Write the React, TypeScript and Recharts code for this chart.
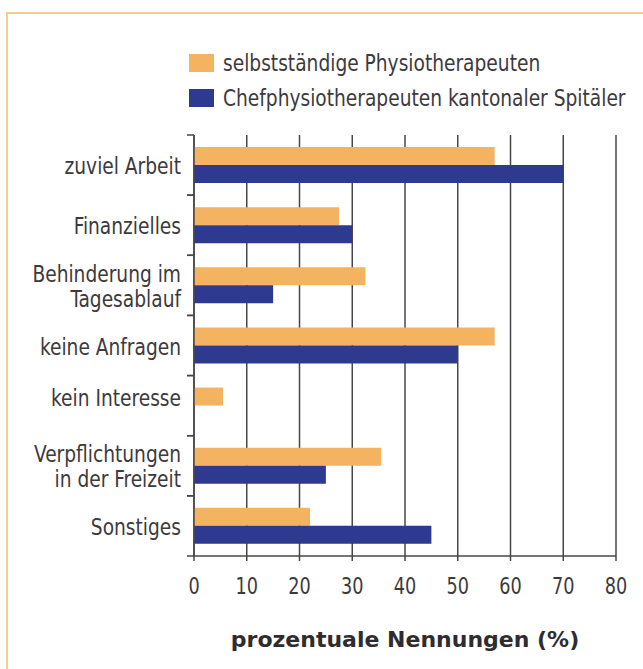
import React from 'react';
import { BarChart, Bar, XAxis, YAxis, CartesianGrid, Legend, Label } from 'recharts';

const categories = [
  'zuviel Arbeit',
  'Finanzielles',
  'Behinderung im\nTagesablauf',
  'keine Anfragen',
  'kein Interesse',
  'Verpflichtungen\nin der Freizeit',
  'Sonstiges',
];
const selbststaendig = [57, 27.5, 32.5, 57, 5.5, 35.5, 22];
const chefphysio = [70, 30, 15, 50, null, 25, 45];
const xTicks = [0, 10, 20, 30, 40, 50, 60, 70, 80];
const seriesNames = ['selbstständige Physiotherapeuten', 'Chefphysiotherapeuten kantonaler Spitäler'];
const axisTitle = 'prozentuale Nennungen (%)';

const ORANGE = '#F4B360';
const BLUE = '#2E3990';
const GRID = '#4a4648';
const TEXT = '#3d3a3d';
const COND = '"DejaVu Sans Condensed", "DejaVu Sans", sans-serif';
const SQUEEZE = 0.9;
const BAR = 18;

const data = categories.map((name, i) => ({
  name,
  a: selbststaendig[i],
  b: chefphysio[i],
}));

const YTick = (props: any) => {
  const { x, y, payload, height, visibleTicksCount, index } = props;
  const half = payload && payload.offset > 5 ? payload.offset : height / visibleTicksCount / 2;
  const lines = String(payload.value).split('\n');
  const axisX = x + 13;
  const lh = 25;
  // a category with only the first series is labelled level with that bar
  const row = data[index];
  const shift = row && row.b == null ? -BAR / 2 : 0;
  const start = 9 + shift - ((lines.length - 1) * lh) / 2;
  return (
    <g>
      <line x1={axisX - 7} x2={axisX} y1={y - half} y2={y - half} stroke={GRID} strokeWidth={1.5} />
      <line x1={axisX - 7} x2={axisX} y1={y + half} y2={y + half} stroke={GRID} strokeWidth={1.5} />
      <g transform={`translate(${x},${y}) scale(${SQUEEZE},1)`}>
        <text x={0} y={0} textAnchor="end" fill={TEXT} fontFamily={COND} fontSize={23}>
          {lines.map((l, i) => (
            <tspan key={i} x={0} y={start + i * lh}>
              {l}
            </tspan>
          ))}
        </text>
      </g>
    </g>
  );
};

const XTick = (props: any) => {
  const { x, y, payload } = props;
  return (
    <g transform={`translate(${x},${y}) scale(${SQUEEZE * 0.95},1)`}>
      <text x={0} y={0} dy="0.72em" textAnchor="middle" fill={TEXT} fontFamily={COND} fontSize={23}>
        {payload.value}
      </text>
    </g>
  );
};

const LegendContent = () => (
  <div style={{ fontFamily: COND, fontSize: 23, color: TEXT }}>
    {seriesNames.map((n, i) => (
      <div key={n} style={{ display: 'flex', alignItems: 'center', height: 35, whiteSpace: 'nowrap' }}>
        <span
          style={{
            display: 'inline-block',
            width: 25,
            height: 18,
            background: i === 0 ? ORANGE : BLUE,
            marginRight: 9,
            flex: 'none',
          }}
        />
        <span style={{ display: 'inline-block', transform: `scaleX(${SQUEEZE})`, transformOrigin: 'left center' }}>{n}</span>
      </div>
    ))}
  </div>
);

export default function App() {
  return (
    <div style={{ position: 'fixed', left: 0, top: 0, width: 643, height: 669, background: '#fff', overflow: 'hidden' }}>
      <div
        style={{
          position: 'absolute',
          left: 6,
          top: 12,
          width: 700,
          height: 700,
          borderTop: '2px solid #F5CD8E',
          borderLeft: '2px solid #F5CD8E',
        }}
      />
      <div style={{ position: 'absolute', left: 0, top: 0 }}>
        <BarChart
          width={643}
          height={669}
          data={data}
          layout="vertical"
          margin={{ top: 135, right: 27, bottom: 53, left: 0 }}
          barSize={BAR}
          barGap={0}
        >
          <CartesianGrid horizontal={false} stroke={GRID} strokeWidth={1.5} />
          <XAxis
            type="number"
            domain={[0, 80]}
            ticks={xTicks}
            interval={0}
            height={60}
            tickSize={5}
            tickMargin={16}
            axisLine={{ stroke: GRID, strokeWidth: 1.5 }}
            tickLine={{ stroke: GRID, strokeWidth: 1.5 }}
            tick={<XTick />}
          >
            <Label
              value={axisTitle}
              position="bottom"
              offset={15}
              style={{ fill: '#2f2c2f', fontFamily: '"DejaVu Sans", sans-serif', fontWeight: 'bold', fontSize: 22 }}
            />
          </XAxis>
          <XAxis
            xAxisId="top"
            orientation="top"
            type="number"
            domain={[0, 80]}
            height={0}
            tick={false}
            tickLine={false}
            axisLine={{ stroke: GRID, strokeWidth: 1.5 }}
          />
          <YAxis
            type="category"
            dataKey="name"
            width={194}
            tickSize={7}
            tickMargin={6}
            tickLine={false}
            interval={0}
            axisLine={{ stroke: GRID, strokeWidth: 1.5 }}
            tick={<YTick />}
          />
          <Legend
            layout="horizontal"
            verticalAlign="middle"
            align="center"
            content={<LegendContent />}
            wrapperStyle={{ position: 'absolute', left: 189, top: 45, width: 450, height: 70 }}
          />
          <Bar dataKey="a" name={seriesNames[0]} fill={ORANGE} isAnimationActive={false} />
          <Bar dataKey="b" name={seriesNames[1]} fill={BLUE} isAnimationActive={false} />
        </BarChart>
      </div>
    </div>
  );
}
